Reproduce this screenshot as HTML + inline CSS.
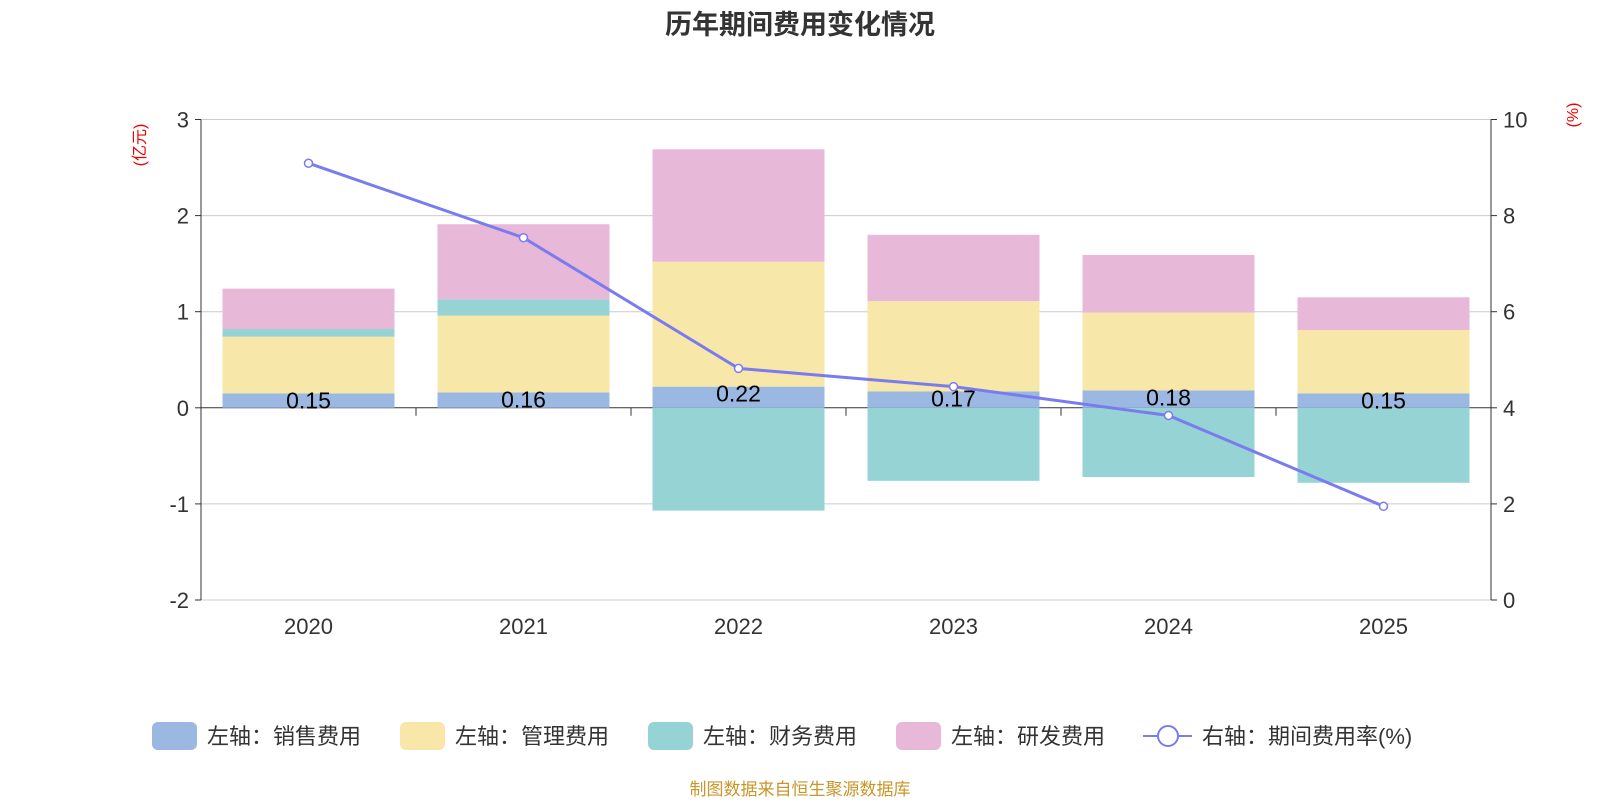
<!DOCTYPE html>
<html><head><meta charset="utf-8"><style>
body{margin:0;background:#fff;}
svg text{font-family:"Liberation Sans","Noto Sans CJK SC",sans-serif;}
</style></head><body>
<svg id="c" width="1600" height="800" xmlns="http://www.w3.org/2000/svg">
<text x="800" y="34" text-anchor="middle" font-size="27" font-weight="bold" fill="#333">历年期间费用变化情况</text>
<text transform="translate(145,145) rotate(-90)" text-anchor="middle" font-size="16" fill="#e00">(亿元)</text>
<text transform="translate(1578,115) rotate(-90)" text-anchor="middle" font-size="16" fill="#e00">(%)</text>
<g id="grid"></g><g id="bars"></g><g id="axes"></g><g id="line"></g><g id="legend"></g>
<text x="800" y="795" text-anchor="middle" font-size="17" fill="#c8962a">制图数据来自恒生聚源数据库</text>
</svg>
<script>
const categories=["2020","2021","2022","2023","2024","2025"];
const sales=[0.15,0.16,0.22,0.17,0.18,0.15];
const mgmt=[0.59,0.80,1.30,0.94,0.81,0.66];
const fin=[0.08,0.17,-1.07,-0.76,-0.72,-0.78];
const rnd=[0.42,0.78,1.17,0.69,0.60,0.34];
const rate=[9.09,7.54,4.82,4.44,3.84,1.95];
const leftTicks=[3,2,1,0,-1,-2];
const rightTicks=[10,8,6,4,2,0];
const NS="http://www.w3.org/2000/svg";
const X0=201,X1=1491,Y0=119.5,Y1=600;
const band=(X1-X0)/categories.length;
const xc=i=>X0+band*(i+0.5);
const yL=v=>Y0+(3-v)*(Y1-Y0)/5;
const yR=v=>Y1-v*(Y1-Y0)/10;
function el(t,a,p){const e=document.createElementNS(NS,t);for(const k in a)e.setAttribute(k,a[k]);document.getElementById(p).appendChild(e);return e;}
leftTicks.forEach(v=>{
 const g=el('line',{x1:X0,x2:X1,y1:yL(v),y2:yL(v),stroke:v===0?'#333':'#ccc','stroke-width':1},'grid');
 
 
 const t=el('text',{x:X0-12,y:yL(v)+8,'text-anchor':'end','font-size':22,fill:'#333'},'axes');t.textContent=v;
 
 
 el('line',{x1:X0-6,x2:X0,y1:yL(v),y2:yL(v),stroke:'#333'},'axes');
});
rightTicks.forEach(v=>{
 const t=el('text',{x:X1+12,y:yR(v)+8,'font-size':22,fill:'#333'},'axes');t.textContent=v;
 
 
 el('line',{x1:X1,x2:X1+6,y1:yR(v),y2:yR(v),stroke:'#333'},'axes');
});
el('line',{x1:X0,x2:X0,y1:Y0,y2:Y1,stroke:'#333'},'axes');
el('line',{x1:X1,x2:X1,y1:Y0,y2:Y1,stroke:'#333'},'axes');
for(let i=0;i<=categories.length;i++)el('line',{x1:X0+band*i,x2:X0+band*i,y1:yL(0),y2:yL(0)+8,stroke:'#333'},'axes');
const bw=172;
function seg(i,a,b,col,name){const r=el('rect',{x:xc(i)-bw/2,y:Math.min(yL(a),yL(b)),width:bw,height:Math.abs(yL(a)-yL(b)),fill:col},'bars');
 
 }
categories.forEach((c,i)=>{
 let pos=0,neg=0;
 [[sales,'#9bb8e2','bar-sales'],[mgmt,'#f7e7a8','bar-mgmt'],[fin,'#96d3d4','bar-finance'],[rnd,'#e7b8d7','bar-rnd']].forEach(([arr,col,nm])=>{
  const v=arr[i];
  if(v>=0){seg(i,pos,pos+v,col,nm);pos+=v;}else{seg(i,neg,neg+v,col,nm);neg+=v;}
 });
 const t=el('text',{x:xc(i),y:yL(sales[i])+15,'text-anchor':'middle','font-size':23,fill:'#000'},'bars');t.textContent=sales[i].toFixed(2);
 
 
 const x=el('text',{x:xc(i),y:Y1+34,'text-anchor':'middle','font-size':22,fill:'#333'},'axes');x.textContent=c;
 
 
});
const pl=el('polyline',{points:rate.map((v,i)=>xc(i)+','+yR(v)).join(' '),fill:'none',stroke:'#7b7bf0','stroke-width':3},'line');


rate.forEach((v,i)=>{const p=el('circle',{cx:xc(i),cy:yR(v),r:4,fill:'#fff',stroke:'#7b7bf0','stroke-width':1.5},'line');
 
 });
const leg=[['左轴：销售费用','#9bb8e2',152],['左轴：管理费用','#f7e7a8',400],['左轴：财务费用','#96d3d4',648],['左轴：研发费用','#e7b8d7',896]];
leg.forEach(([t,c,x])=>{
 const r=el('rect',{x:x,y:722,width:45,height:28,rx:6,fill:c},'legend');
 
 
 const tx=el('text',{x:x+55,y:744,'font-size':22,fill:'#333'},'legend');tx.textContent=t;
 
 
});
el('line',{x1:1143,x2:1192,y1:736,y2:736,stroke:'#7b7bf0','stroke-width':2},'legend');
const lc=el('circle',{cx:1168,cy:736,r:10,fill:'#fff',stroke:'#7b7bf0','stroke-width':2},'legend');


const lt=el('text',{x:1202,y:744,'font-size':22,fill:'#333'},'legend');lt.textContent='右轴：期间费用率(%)';


</script>
</body></html>
